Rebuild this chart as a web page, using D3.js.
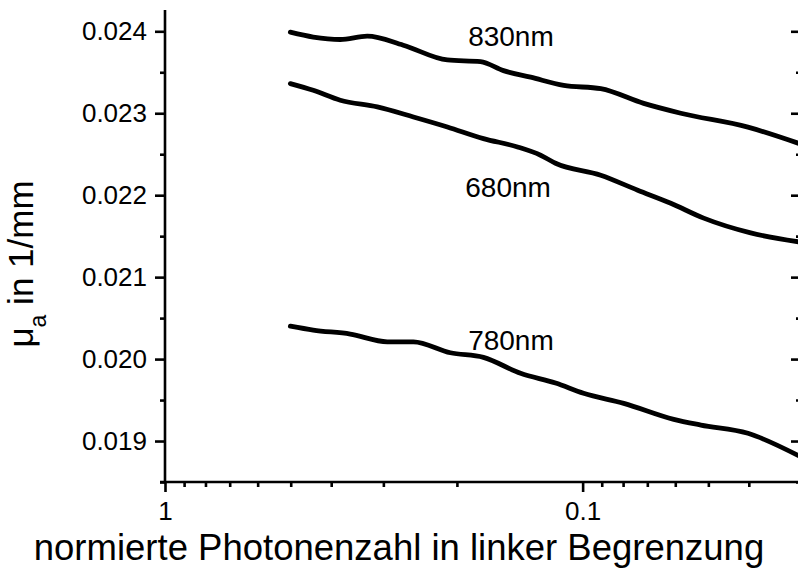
<!DOCTYPE html>
<html>
<head>
<meta charset="utf-8">
<script src="https://cdn.jsdelivr.net/npm/d3@7"></script>
<style>
  body { margin: 0; background: #fff; }
  svg text { font-family: Arial, "Liberation Sans", sans-serif; fill: #000; }
</style>
</head>
<body>
<div id="chart"></div>
<script>
let w = 798;
let h = 570;

// photon number (x, log, decreasing to the right)
let photons830 = [0.501, 0.4416, 0.3804, 0.3279, 0.2688, 0.2108, 0.1756, 0.1547, 0.1332, 0.1110, 0.0905, 0.0714, 0.0582, 0.0402, 0.0303];
let mua830     = [0.02399, 0.02393, 0.02390, 0.02394, 0.02383, 0.02365, 0.02363, 0.02352, 0.02344, 0.02334, 0.02330, 0.02312, 0.02300, 0.02283, 0.02263];

let photons680 = [0.501, 0.4416, 0.3804, 0.3102, 0.2542, 0.2108, 0.1728, 0.1432, 0.1261, 0.1161, 0.0905, 0.0738, 0.0615, 0.0513, 0.0396, 0.0303];
let mua680     = [0.023362, 0.023280, 0.023159, 0.023077, 0.022955, 0.022833, 0.022691, 0.022589, 0.022488, 0.022390, 0.022244, 0.022061, 0.021902, 0.021720, 0.021540, 0.021430];

let photons780 = [0.501, 0.4416, 0.3601, 0.2935, 0.2542, 0.2073, 0.1728, 0.1408, 0.1161, 0.0995, 0.0797, 0.0605, 0.0521, 0.0402, 0.0303];
let mua780     = [0.020402, 0.020354, 0.020305, 0.020211, 0.020211, 0.020077, 0.020021, 0.019826, 0.019707, 0.019582, 0.019460, 0.019265, 0.019195, 0.019094, 0.018817];

let seriesNames = ["830nm", "680nm", "780nm"];
let labelX = [0.188, 0.191, 0.188];
let labelY = [0.02382, 0.021976, 0.02011];

let xMajor = [1, 0.1];
let xMinor = [0.9, 0.8, 0.7, 0.6, 0.5, 0.4, 0.3, 0.2, 0.09, 0.08, 0.07, 0.06, 0.05, 0.04, 0.03];
let yMajor = [0.019, 0.020, 0.021, 0.022, 0.023, 0.024];
let yMinor = [0.0185, 0.0195, 0.0205, 0.0215, 0.0225, 0.0235];

let xTitle = "normierte Photonenzahl in linker Begrenzung";

let mLeft = 165, mRight = 801, mTop = 10, mBottom = 482;

let viz = d3.select("#chart").append("svg")
  .attr("width", w)
  .attr("height", h);

let x = d3.scaleLog().domain([1, 0.03]).range([mLeft, mRight]);
let y = d3.scaleLinear().domain([0.0185, 0.02426]).range([mBottom, mTop]);

// axes
let axisW = 2.6;

function styleAxis(g) {
  g.select(".domain").remove();
  g.selectAll("line").attr("stroke", "#000").attr("stroke-width", axisW);
}

// left axis
viz.append("g")
  .attr("transform", `translate(${mLeft},0)`)
  .call(d3.axisLeft(y).tickValues(yMajor).tickSize(10).tickPadding(8).tickFormat(d3.format(".3f")))
  .call(styleAxis)
  .call(g => g.selectAll("text").attr("font-size", 26).attr("font-family", "Arial, 'Liberation Sans', sans-serif"));
viz.append("g")
  .attr("transform", `translate(${mLeft},0)`)
  .call(d3.axisLeft(y).tickValues(yMinor).tickSize(5).tickFormat(""))
  .call(styleAxis);

// right axis (ticks only, pointing inward)
viz.append("g")
  .attr("transform", `translate(${mRight},0)`)
  .call(d3.axisLeft(y).tickValues(yMajor).tickSize(10).tickFormat(""))
  .call(styleAxis);
viz.append("g")
  .attr("transform", `translate(${mRight},0)`)
  .call(d3.axisLeft(y).tickValues(yMinor).tickSize(5).tickFormat(""))
  .call(styleAxis);

// bottom axis
viz.append("g")
  .attr("transform", `translate(0,${mBottom})`)
  .call(d3.axisBottom(x).tickValues(xMajor).tickSize(10).tickPadding(10).tickFormat(d => d === 1 ? "1" : "0.1"))
  .call(styleAxis)
  .call(g => g.selectAll("text").attr("font-size", 26).attr("font-family", "Arial, 'Liberation Sans', sans-serif"));
viz.append("g")
  .attr("transform", `translate(0,${mBottom})`)
  .call(d3.axisBottom(x).tickValues(xMinor).tickSize(5).tickFormat(""))
  .call(styleAxis);

// axis lines
viz.append("line")
  .attr("x1", mLeft).attr("x2", mLeft)
  .attr("y1", mTop).attr("y2", mBottom + axisW / 2)
  .attr("stroke", "#000").attr("stroke-width", axisW);
viz.append("line")
  .attr("x1", mLeft - 5).attr("x2", mRight)
  .attr("y1", mBottom).attr("y2", mBottom)
  .attr("stroke", "#000").attr("stroke-width", axisW);

// curves
let series = [
  photons830.map((p, i) => ({p: p, m: mua830[i]})),
  photons680.map((p, i) => ({p: p, m: mua680[i]})),
  photons780.map((p, i) => ({p: p, m: mua780[i]}))
];

let line = d3.line()
  .x(d => x(d.p))
  .y(d => y(d.m))
  .curve(d3.curveMonotoneX);

viz.append("g").selectAll("path")
  .data(series)
  .enter().append("path")
    .attr("d", line)
    .attr("fill", "none")
    .attr("stroke", "#000")
    .attr("stroke-width", 4.8)
    .attr("stroke-linejoin", "round")
    .attr("stroke-linecap", "round");

// series labels
viz.append("g").selectAll("text")
  .data(seriesNames)
  .enter().append("text")
    .attr("x", (d, i) => x(labelX[i]))
    .attr("y", (d, i) => y(labelY[i]))
    .attr("font-size", 28)
    .text(d => d);

// x title
viz.append("text")
  .attr("x", 399)
  .attr("y", 560)
  .attr("text-anchor", "middle")
  .attr("font-size", 36.5)
  .text(xTitle);

// y title
let yt = viz.append("text")
  .attr("transform", `translate(33,264) rotate(-90)`)
  .attr("text-anchor", "middle")
  .attr("font-size", 35);
yt.append("tspan").text("\u03bc");
yt.append("tspan").attr("font-size", 23).attr("dy", 13).text("a");
yt.append("tspan").attr("dy", -13).text(" in 1/mm");
</script>
</body>
</html>
